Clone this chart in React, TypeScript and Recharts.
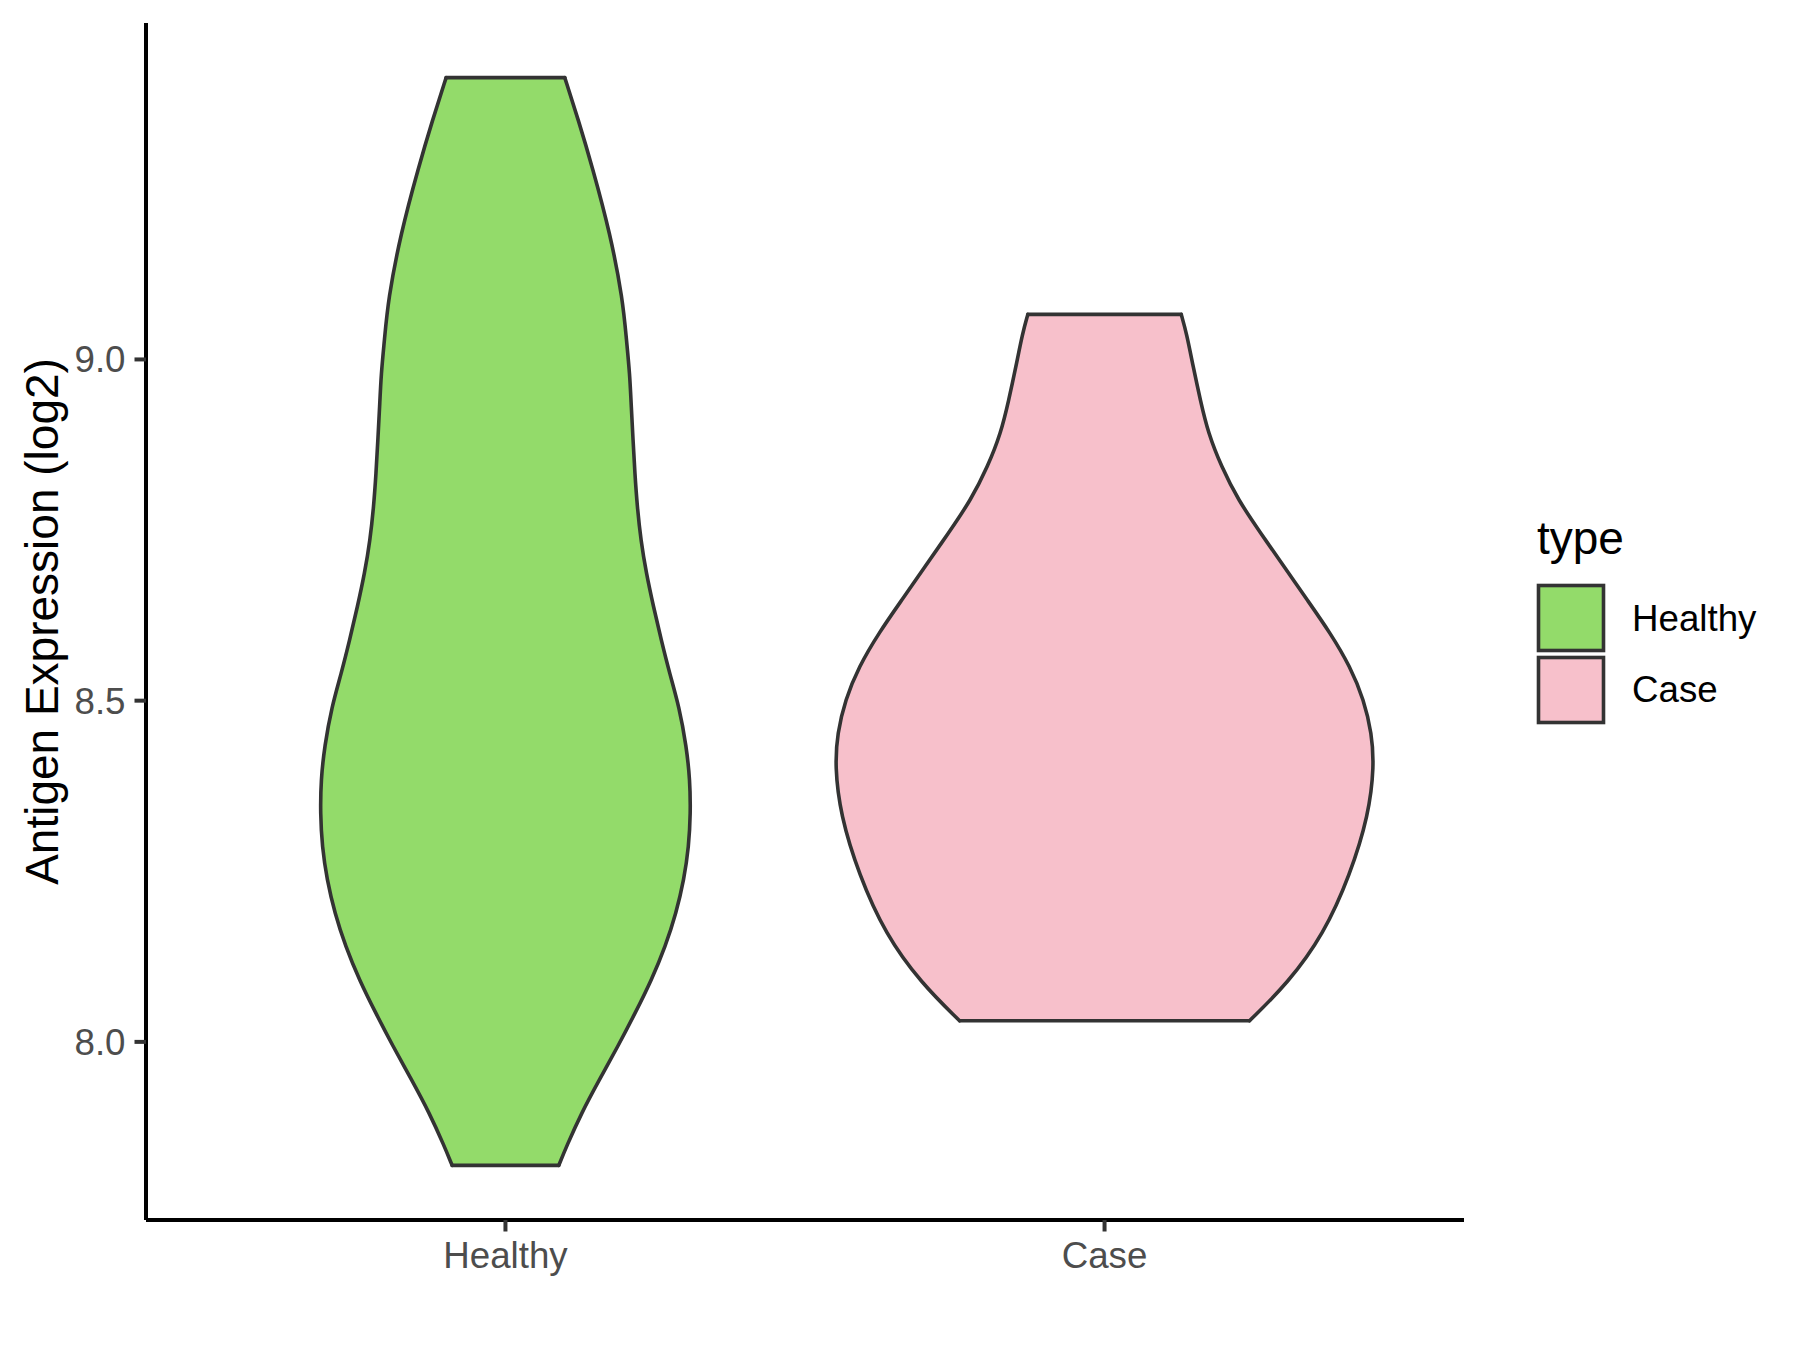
import React from 'react';
import { ComposedChart, Area, Line, XAxis, YAxis } from 'recharts';

const categories = ['Healthy', 'Case'];
const fills = ['#93DB6A', '#F7C0CB'];

// violin outlines: expression level (log2) and half-width in category units
const healthyLevels = [9.413, 9.35, 9.282, 9.184, 9.087, 9.028, 8.979, 8.931, 8.882, 8.833, 8.784, 8.735, 8.687, 8.638, 8.589, 8.54, 8.491, 8.433, 8.384, 8.335, 8.286, 8.238, 8.189, 8.14, 8.091, 8.043, 7.994, 7.945, 7.896, 7.847, 7.819];
const healthyHalfWidth = [0.099, 0.122, 0.145, 0.175, 0.196, 0.202, 0.2075, 0.21, 0.213, 0.216, 0.22, 0.226, 0.235, 0.247, 0.26, 0.274, 0.29, 0.302, 0.308, 0.309, 0.306, 0.298, 0.285, 0.267, 0.244, 0.217, 0.188, 0.157, 0.127, 0.102, 0.089];

const caseLevels = [9.066, 9.038, 8.989, 8.94, 8.892, 8.843, 8.794, 8.745, 8.696, 8.648, 8.599, 8.55, 8.501, 8.452, 8.404, 8.333, 8.245, 8.158, 8.086, 8.031];
const caseHalfWidth = [0.128, 0.137, 0.148, 0.16, 0.173, 0.195, 0.223, 0.261, 0.3, 0.338, 0.377, 0.41, 0.433, 0.446, 0.45, 0.441, 0.41, 0.366, 0.306, 0.242];

const yTicks = [8.0, 8.5, 9.0];

const FONT = '"Liberation Sans", Arial, sans-serif';
const OUTLINE = '#333333';

const toViolin = (pos: number, levels: number[], hw: number[]) =>
  levels.map((y, i) => ({ y, range: [pos - hw[i], pos + hw[i]] }));

const toCaps = (pos: number, levels: number[], hw: number[]) =>
  [0, levels.length - 1].map((i) => [
    { y: levels[i], x: pos - hw[i] },
    { y: levels[i], x: pos + hw[i] },
  ]);

const violins = [
  { name: categories[0], fill: fills[0], rows: toViolin(1, healthyLevels, healthyHalfWidth), caps: toCaps(1, healthyLevels, healthyHalfWidth) },
  { name: categories[1], fill: fills[1], rows: toViolin(2, caseLevels, caseHalfWidth), caps: toCaps(2, caseLevels, caseHalfWidth) },
];

const YTick = (props: any) => {
  const { x, y, payload } = props;
  return (
    <text x={x} y={y} dy={13} textAnchor="end" fontSize={36.7} fill="#4D4D4D" fontFamily={FONT}>
      {Number(payload.value).toFixed(1)}
    </text>
  );
};

const XTick = (props: any) => {
  const { x, y, payload } = props;
  return (
    <text x={x} y={y} dy={27} textAnchor="middle" fontSize={36.7} fill="#4D4D4D" fontFamily={FONT}>
      {categories[Math.round(payload.value) - 1]}
    </text>
  );
};

export default function App() {
  return (
    <div style={{ position: 'absolute', left: 0, top: 0, width: 1800, height: 1350, background: '#fff' }}>
      <ComposedChart
        width={1800}
        height={1350}
        layout="vertical"
        margin={{ top: 23, right: 336, bottom: 0, left: 0 }}
      >
        <XAxis
          type="number"
          domain={[0.4, 2.6]}
          ticks={[1, 2]}
          interval={0}
          allowDataOverflow
          height={130}
          tickSize={11.5}
          tickMargin={9}
          axisLine={{ stroke: '#000', strokeWidth: 4 }}
          tickLine={{ stroke: OUTLINE, strokeWidth: 4 }}
          tick={<XTick />}
        />
        <YAxis
          type="number"
          dataKey="y"
          reversed
          domain={[7.739, 9.493]}
          ticks={yTicks}
          interval={0}
          allowDataOverflow
          width={146}
          tickSize={11.5}
          tickMargin={9}
          axisLine={{ stroke: '#000', strokeWidth: 4 }}
          tickLine={{ stroke: OUTLINE, strokeWidth: 4 }}
          tick={<YTick />}
        />
        {violins.map((v) => (
          <Area
            key={v.name}
            data={v.rows}
            dataKey="range"
            type="basis"
            fill={v.fill}
            fillOpacity={1}
            stroke={OUTLINE}
            strokeWidth={3.6}
            strokeLinecap="round"
            dot={false}
            activeDot={false}
            isAnimationActive={false}
          />
        ))}
        {violins.flatMap((v) =>
          v.caps.map((cap, i) => (
            <Line
              key={`${v.name}-cap-${i}`}
              data={cap}
              dataKey="x"
              type="linear"
              stroke={OUTLINE}
              strokeWidth={3.6}
              strokeLinecap="round"
              dot={false}
              activeDot={false}
              isAnimationActive={false}
            />
          ))
        )}
      </ComposedChart>

      <svg width={1800} height={1350} style={{ position: 'absolute', left: 0, top: 0, pointerEvents: 'none' }}>
        <text
          transform="translate(58, 621.5) rotate(-90)"
          textAnchor="middle"
          fontSize={46}
          fill="#000"
          fontFamily={FONT}
        >
          Antigen Expression (log2)
        </text>
        <text x={1537} y={554} fontSize={46} fill="#000" fontFamily={FONT}>type</text>
        {violins.map((v, i) => (
          <g key={v.name}>
            <rect x={1538.5} y={585.5 + i * 72} width={65} height={65} fill={v.fill} stroke={OUTLINE} strokeWidth={3.6} />
            <text x={1632} y={630.7 + i * 71} fontSize={36.7} fill="#000" fontFamily={FONT}>{v.name}</text>
          </g>
        ))}
      </svg>
    </div>
  );
}
